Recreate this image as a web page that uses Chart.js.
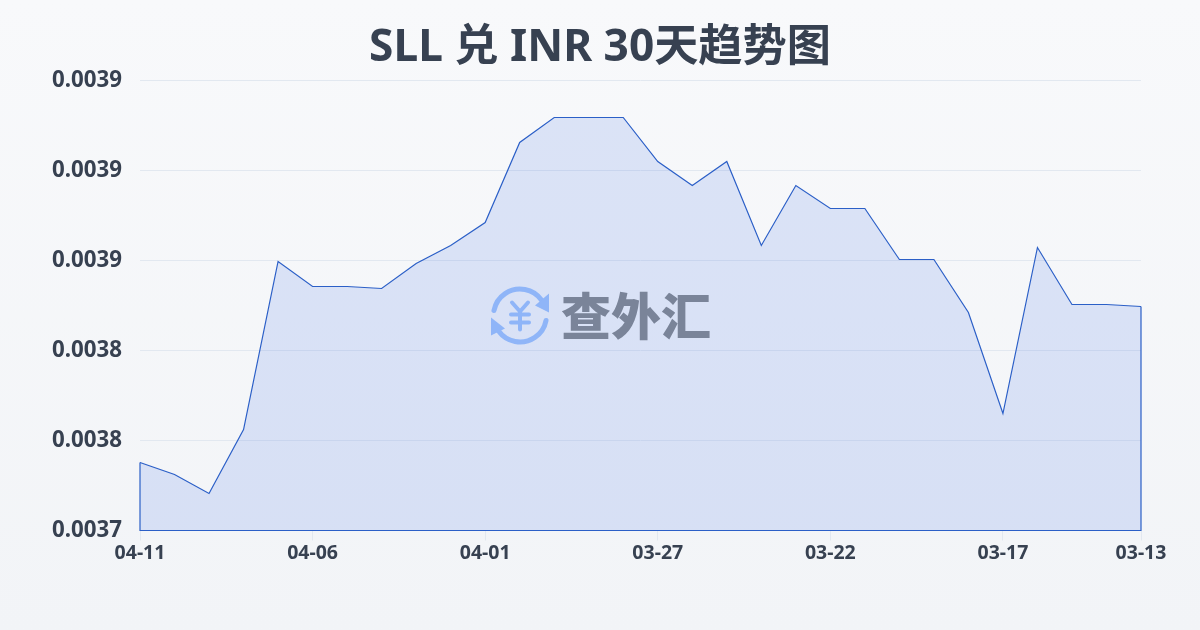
<!DOCTYPE html>
<html>
<head>
<meta charset="utf-8">
<style>
html,body{margin:0;padding:0;width:1200px;height:630px;overflow:hidden;background:linear-gradient(180deg,#f8f9fb 0%,#f2f4f7 100%);}
#wrap{position:absolute;left:0;top:0;width:1200px;height:630px;}
</style>
<script src="https://cdn.jsdelivr.net/npm/chart.js@4/dist/chart.umd.min.js"></script>
</head>
<body>
<div id="wrap"><canvas id="c" width="1200" height="630"></canvas></div>
<script>
const titleText = 'SLL 兑 INR 30天趋势图';
const watermarkText = '查外汇';
const categories = ['04-11','04-10','04-09','04-08','04-07','04-06','04-05','04-04','04-03','04-02','04-01','03-31','03-30','03-29','03-28','03-27','03-26','03-25','03-24','03-23','03-22','03-21','03-20','03-19','03-18','03-17','03-16','03-15','03-14','03-13'];
const rates = [0.003754,0.003748,0.0037385,0.0037705,0.0038545,0.003842,0.003842,0.003841,0.0038535,0.0038625,0.003874,0.003914,0.0039265,0.0039265,0.0039265,0.0039045,0.0038925,0.0039045,0.0038625,0.0038925,0.003881,0.003881,0.0038555,0.0038555,0.003829,0.0037785,0.0038615,0.003833,0.003833,0.003832];
const shownDates = ['04-11','04-06','04-01','03-27','03-22','03-17','03-13'];
const yMin = 0.00372, yMax = 0.003945, yStep = 0.000045;

const TEXT = '"Noto Sans","Noto Sans CJK SC",sans-serif';
const LINE = '#2b5fc7';

const pageTitle = {
  id:'pageTitle',
  afterDraw(chart){
    const ctx = chart.ctx;
    ctx.save();
    ctx.fillStyle = '#374151';
    ctx.font = '700 44.2px '+TEXT;
    ctx.textAlign = 'center'; ctx.textBaseline = 'middle';
    ctx.fillText(titleText, chart.width/2, 48);
    ctx.restore();
  }
};
const closeArea = {
  id:'closeArea',
  afterDatasetsDraw(chart){
    const pts = chart.getDatasetMeta(0).data, a = chart.chartArea, ctx = chart.ctx;
    ctx.save();
    ctx.strokeStyle = LINE; ctx.lineWidth = 1.2;
    ctx.beginPath();
    ctx.moveTo(pts[0].x, pts[0].y);
    ctx.lineTo(pts[0].x, a.bottom);
    ctx.lineTo(pts[pts.length-1].x, a.bottom);
    ctx.lineTo(pts[pts.length-1].x, pts[pts.length-1].y);
    ctx.stroke();
    ctx.restore();
  }
};
const watermark = {
  id:'watermark',
  afterDraw(chart){
    const a = chart.chartArea, ctx = chart.ctx;
    const cx = (a.left+a.right)/2 - 120.5, cy = (a.top+a.bottom)/2 + 10;
    ctx.save();
    ctx.strokeStyle = '#8fb5f8'; ctx.fillStyle = '#8fb5f8';
    ctx.lineWidth = 5; ctx.lineCap = 'round'; ctx.lineJoin = 'round';
    ctx.beginPath(); ctx.arc(cx,cy,26.5,Math.PI*1.06,Math.PI*1.8); ctx.stroke();
    ctx.beginPath(); ctx.arc(cx,cy,26.5,Math.PI*0.06,Math.PI*0.8); ctx.stroke();
    ctx.beginPath(); ctx.moveTo(cx+29,cy-22); ctx.lineTo(cx+29,cy-3); ctx.lineTo(cx+15,cy-10); ctx.closePath(); ctx.fill();
    ctx.beginPath(); ctx.moveTo(cx-29,cy+2); ctx.lineTo(cx-29,cy+20); ctx.lineTo(cx-15,cy+13); ctx.closePath(); ctx.fill();
    ctx.lineWidth = 4;
    ctx.beginPath();
    ctx.moveTo(cx-8,cy-13); ctx.lineTo(cx,cy-4); ctx.lineTo(cx+8,cy-13);
    ctx.moveTo(cx-9,cy-1); ctx.lineTo(cx+9,cy-1);
    ctx.moveTo(cx-9,cy+7); ctx.lineTo(cx+9,cy+7);
    ctx.moveTo(cx,cy-4); ctx.lineTo(cx,cy+14);
    ctx.stroke();
    ctx.fillStyle = '#7a8499';
    ctx.font = '900 50px "Noto Sans CJK SC",sans-serif';
    ctx.textAlign = 'left'; ctx.textBaseline = 'middle';
    ctx.fillText(watermarkText, 561, cy);
    ctx.restore();
  }
};

new Chart(document.getElementById('c'), {
  type:'line',
  data:{labels:categories,datasets:[{
    data:rates,
    borderColor:LINE,borderWidth:1.2,
    backgroundColor:'rgba(59,110,225,0.15)',
    fill:'origin',pointRadius:0,tension:0
  }]},
  plugins:[closeArea,watermark,pageTitle],
  options:{
    responsive:false,animation:false,
    layout:{padding:{left:0,right:59,top:80.5,bottom:39.5}},
    plugins:{
      legend:{display:false},tooltip:{enabled:false},
      title:{display:false}
    },
    scales:{
      x:{
        grid:{drawOnChartArea:false,drawTicks:true,tickLength:10,color:'#e2e8f0'},
        border:{display:false},
        ticks:{
          autoSkip:false,maxRotation:0,padding:1,color:'#374151',
          font:{family:TEXT,size:19.5,weight:'700'},
          callback(v,i){const l=categories[i];return shownDates.includes(l)?l:null;}
        },
        afterFit(s){s.height=60;}
      },
      y:{
        min:yMin,max:yMax,
        grid:{color:'#e2e8f0',drawTicks:false,lineWidth:1},
        border:{display:false},
        ticks:{stepSize:yStep,padding:18,color:'#374151',
          font:{family:TEXT,size:22.3,weight:'700'},
          callback(v){return v.toFixed(4);}
        },
        afterFit(s){s.width=140;}
      }
    }
  }
});
</script>
</body>
</html>
